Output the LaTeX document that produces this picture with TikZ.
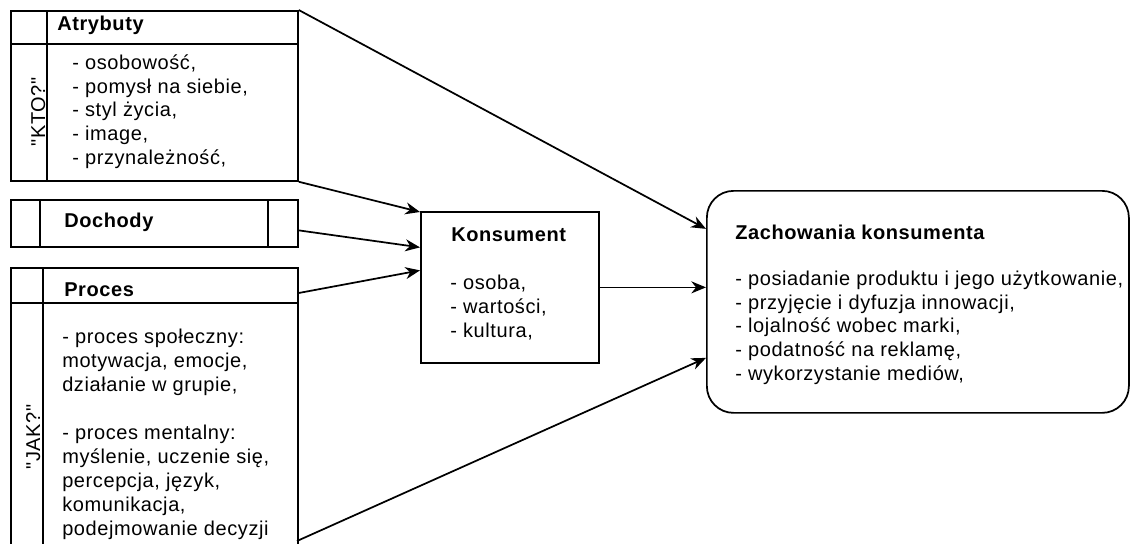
\documentclass[tikz,border=0pt]{standalone}
\usepackage{fontspec}
\setmainfont{Liberation Sans}[LetterSpace=3, Ligatures=TeXOff]
\usetikzlibrary{arrows.meta,calc}
\begin{document}
\begin{tikzpicture}[x=0.75pt,y=-0.75pt,
  every node/.style={font=\fontsize{15pt}{17.7pt}\selectfont},
  frame/.style={draw, line width=1.3pt, rectangle, inner sep=0pt, anchor=north west},
  rule/.style={line width=1.3pt},
  % multi-line blocks are placed by the baseline of their last line
  txt/.style={align=left, anchor=base west, inner sep=0pt},
  ttl/.style={anchor=base west, inner sep=0pt, font=\fontsize{15pt}{17.7pt}\selectfont\bfseries},
  side/.style={rotate=90, anchor=base, inner sep=0pt},
  link/.style={line width=1.3pt, -{Stealth[length=11pt,width=9pt,inset=3.5pt]}}
]
\useasboundingbox (0,0) rectangle (1130,543);

% --- Atrybuty ---
\node[frame, minimum width=215.25pt, minimum height=127.5pt] (atr) at (10,10) {};
\draw[rule] (10,44) -- (297,44);
\draw[rule] (47,10) -- (47,180);
\node[ttl] (atrT) at (57,30) {Atrybuty};
\node[side] (kto) at (45,112) {"KTO?"};
\node[txt] (atrL) at (72,164) {- osobowość,\\- pomysł na siebie,\\- styl życia,\\- image,\\- przynależność,};

% --- Dochody ---
\node[frame, minimum width=215.25pt, minimum height=35.25pt] (doch) at (10,199) {};
\draw[rule] (40,199) -- (40,246);
\draw[rule] (268,199) -- (268,246);
\node[ttl] (dochT) at (64,227) {Dochody};

% --- Proces ---
\node[frame, minimum width=215.25pt, minimum height=219.75pt] (proc) at (10,267) {};
\draw[rule] (10,303) -- (297,303);
\draw[rule] (43,267) -- (43,560);
\node[ttl] (procT) at (64,296) {Proces};
\node[side] (jak) at (40,437) {"JAK?"};
\node[txt, font=\fontsize{15pt}{18pt}\selectfont] (procL) at (62,535) {- proces społeczny:\\motywacja, emocje,\\działanie w grupie,\\[18pt]- proces mentalny:\\myślenie, uczenie się,\\percepcja, język,\\komunikacja,\\podejmowanie decyzji};
\coordinate (procOut) at (297,541);

% --- Konsument ---
\node[frame, minimum width=133.5pt, minimum height=113.25pt] (kons) at (420,211) {};
\node[ttl] (konsT) at (451,241) {Konsument};
\node[txt] (konsL) at (450,337) {- osoba,\\- wartości,\\- kultura,};

% --- Zachowania konsumenta ---
\node[frame, rounded corners=20pt, minimum width=316.5pt, minimum height=166.5pt] (zach) at (706,190) {};
\node[ttl] (zachT) at (735,239) {Zachowania konsumenta};
\node[txt] (zachL) at (735,380) {- posiadanie produktu i jego użytkowanie,\\- przyjęcie i dyfuzja innowacji,\\- lojalność wobec marki,\\- podatność na reklamę,\\- wykorzystanie mediów,};

% --- connectors ---
\draw[link] (atr.north east) -- ($(zach.west)+(0,-73)$);
\draw[link] (atr.south east) -- ($(kons.north west)+(0,1)$);
\draw[link] ($(doch.east)+(0,7)$) -- ($(kons.west)+(0,-40)$);
\draw[link] ($(proc.north east)+(0,26)$) -- ($(kons.west)+(0,-17)$);
\draw[link] (kons.east) -- (kons.east -| zach.west);
\draw[link] (procOut) -- ($(zach.west)+(0,56)$);
\end{tikzpicture}
\end{document}
